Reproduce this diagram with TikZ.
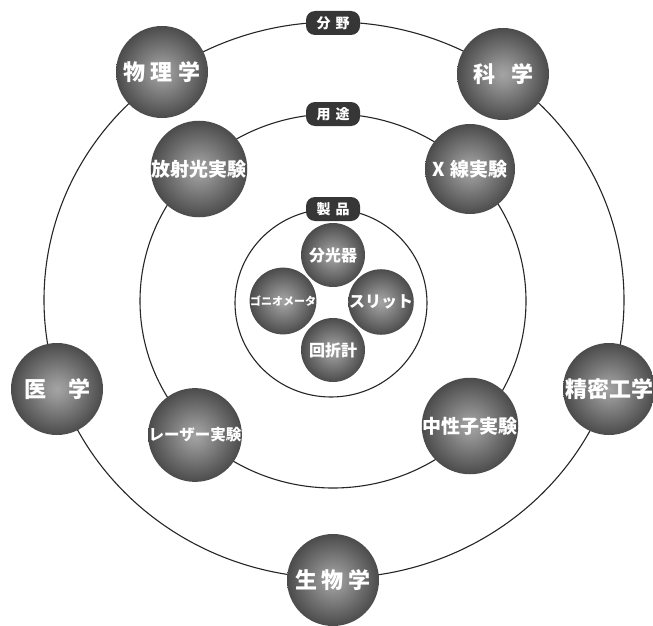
\documentclass[tikz,border=0pt]{standalone}
\usepackage{fontspec}
\usepackage{xcolor}
\newfontfamily\jpfont{Noto Sans CJK JP}
\definecolor{colorRing}{HTML}{262626}
\definecolor{colorTag}{HTML}{363636}
\definecolor{colorBallIn}{HTML}{A4A4A4}
\definecolor{colorBallOut}{HTML}{2A2A2A}
\def\colorRing{colorRing}
\def\colorTag{colorTag}
\pgfdeclareradialshading{ballShade}{\pgfpoint{0bp}{0bp}}{%
  color(0bp)=(colorBallIn); color(5bp)=(colorBallIn!88!colorBallOut);
  color(34bp)=(colorBallOut); color(100bp)=(colorBallOut)}

\begin{document}
\begin{tikzpicture}[x=1pt, y=-1pt,
  ring/.style={draw=\colorRing, line width=1.1pt},
  tag/.style={fill=\colorTag, rounded corners=9pt, text=white,
    minimum width=54pt, minimum height=24pt, inner sep=0pt,
    font=\jpfont\bfseries\fontsize{14}{14}\selectfont},
  bigball/.style={circle, shading=ballShade, minimum size=92pt, inner sep=0pt,
    text=white, font=\jpfont\bfseries\fontsize{22}{22}\selectfont},
  midball/.style={bigball, minimum size=90pt,
    font=\jpfont\bfseries\fontsize{19}{19}\selectfont},
  smallball/.style={bigball, minimum size=64pt,
    font=\jpfont\bfseries\fontsize{16}{16}\selectfont}
  ]

% le cadre
\fill[white] (0,0) rectangle (653,626);
\useasboundingbox (0,0) rectangle (653,626);

% les trois anneaux
\draw[ring] (334,300) ellipse [x radius=290pt, y radius=278pt];
\draw[ring] (333,301) ellipse [x radius=193pt, y radius=187pt];
\draw[ring] (331,303) ellipse [x radius=96pt, y radius=94pt];

% les etiquettes
\node[tag] (bunya)  at (333,23)  {分\hspace{5pt}野};
\node[tag] (yoto)   at (333,114) {用\hspace{5pt}途};
\node[tag] (seihin) at (333,209) {製\hspace{5pt}品};

% anneau exterieur : domaines
\node[bigball] (butsuri)  at (162,72)  {物\hspace{6pt}理\hspace{6pt}学};
\node[bigball] (kagaku)   at (503,74)  {科\hspace{16pt}学};
\node[bigball] (igaku)    at (57,389)  {医\hspace{22pt}学};
\node[bigball] (seimitsu) at (609,389) {精密工学};
\node[bigball] (seibutsu) at (333,580) {生\hspace{5pt}物\hspace{5pt}学};

% anneau du milieu : usages
\node[midball] (housha)   at (199,169) {放射光実験};
\node[midball] (xsen)     at (470,169) {X\hspace{6pt}線実験};
\node[midball, font=\jpfont\bfseries\fontsize{15.5}{15.5}\selectfont]
  (laser) at (195,435) {レーザー実験};
\node[midball] (chuseishi) at (470,426) {中性子実験};

% anneau interieur : produits
\node[smallball] (bunko)    at (333,255) {分光器};
\node[smallball, font=\jpfont\bfseries\fontsize{11}{11}\selectfont]
  (gonio) at (283,301) {ゴニオメータ};
\node[smallball] (slit)     at (381,302) {スリット};
\node[smallball] (kaisetsu) at (333,350) {回折計};

\end{tikzpicture}
\end{document}
